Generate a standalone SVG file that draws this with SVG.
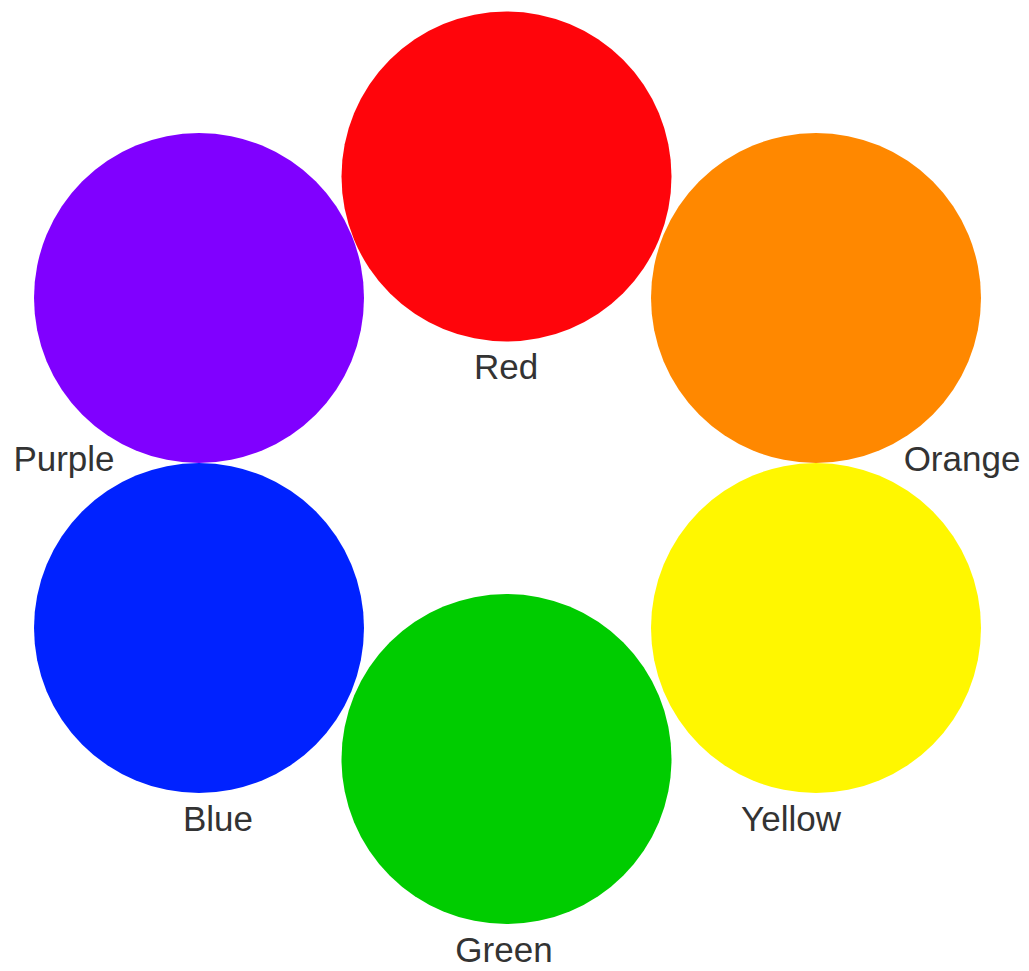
<svg xmlns="http://www.w3.org/2000/svg" width="1029" height="971" viewBox="0 0 1029 971">
<style>
.lbl{font-family:"Liberation Sans",Arial,sans-serif;font-size:35px;fill:#333;text-anchor:middle}
</style>
<rect width="1029" height="971" fill="#fff"/>
<g id="red"><circle cx="506.5" cy="176.5" r="165" fill="#ff050b"/><text class="lbl" x="506" y="379">Red</text></g>
<g id="orange"><circle cx="816" cy="298" r="165" fill="#ff8800"/><text class="lbl" x="962" y="471">Orange</text></g>
<g id="purple"><circle cx="199" cy="298" r="165" fill="#8000ff"/><text class="lbl" x="64" y="471">Purple</text></g>
<g id="blue"><circle cx="199" cy="628" r="165" fill="#0022ff"/><text class="lbl" x="218" y="831">Blue</text></g>
<g id="yellow"><circle cx="816" cy="628" r="165" fill="#fff700"/><text class="lbl" x="791" y="831">Yellow</text></g>
<g id="green"><circle cx="506.5" cy="759" r="165" fill="#00cc00"/><text class="lbl" x="504" y="962">Green</text></g>
<g id="connectors"></g>
</svg>
